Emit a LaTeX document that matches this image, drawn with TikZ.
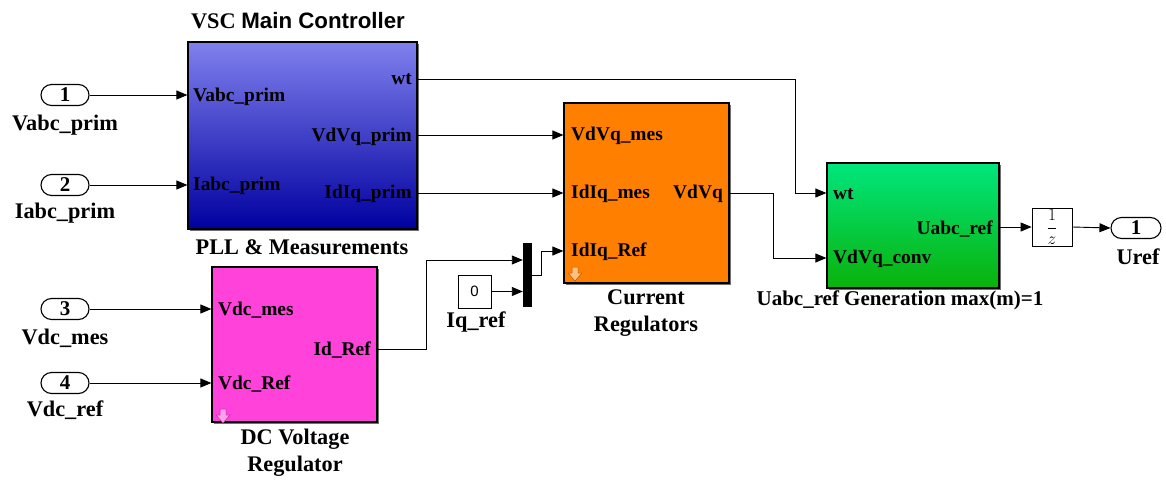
\documentclass[tikz,border=0pt]{standalone}
\usepackage{fontspec}
\setmainfont{Liberation Serif}
\newfontfamily\arialfont{Liberation Sans}
\usetikzlibrary{arrows.meta,shadows,shapes.misc}
\definecolor{bluetop}{RGB}{128,128,238}
\definecolor{bluebot}{RGB}{0,0,160}
\definecolor{orangeblk}{RGB}{255,128,0}
\definecolor{magentablk}{RGB}{255,66,218}
\definecolor{greentop}{RGB}{0,230,125}
\definecolor{greenbot}{RGB}{10,178,10}
\begin{document}
\begin{tikzpicture}[x=1pt,y=-1pt,
  lbl/.style={font=\fontsize{19.4}{21}\selectfont\bfseries, inner sep=0pt},
  bname/.style={font=\fontsize{22.3}{27}\selectfont\bfseries, inner sep=0pt},
  blk/.style={draw=black, line width=1.2pt, inner sep=0pt,
    drop shadow={shadow xshift=2pt, shadow yshift=-2pt, fill=black!70, opacity=0.8}},
  port/.style={draw=black, line width=1.1pt, rounded rectangle, fill=white,
    minimum width=48pt, minimum height=21pt, inner sep=0pt,
    font=\fontsize{21}{21}\selectfont\bfseries},
  arr/.style={line width=0.9pt, -{Triangle[length=11pt,width=9pt]}},
  icon/.style={draw=#1!70!black, fill=#1!50!white, line width=0.5pt}
]
\useasboundingbox (0,0) rectangle (1166,479);

% ---------- blocks ----------
\node[blk, minimum width=229pt, minimum height=187pt, top color=bluetop, bottom color=bluebot] (blue) at (302.5,135.5) {};
\node[blk, minimum width=165pt, minimum height=180pt, fill=orangeblk] (orange) at (646.5,193) {};
\node[blk, minimum width=165pt, minimum height=155pt, fill=magentablk] (magenta) at (294.5,344.5) {};
\node[blk, minimum width=172pt, minimum height=125pt, top color=greentop, bottom color=greenbot] (green) at (913,225.5) {};
\node[draw=black, line width=0.8pt, fill=white, minimum width=40pt, minimum height=38pt, inner sep=0pt] (delay) at (1052,227) {\fontsize{17}{17}\selectfont$\displaystyle\frac{1}{z}$};
\node[draw=black, line width=0.8pt, fill=white, minimum width=33pt, minimum height=33pt, inner sep=0pt] (const) at (474.5,291.5) {\arialfont\fontsize{15}{15}\selectfont 0};
\node[fill=black, minimum width=9pt, minimum height=64pt, inner sep=0pt] (mux) at (527.5,275) {};

% icons
\draw[icon=orangeblk] (572,267) -- (578,267) -- (578,273) -- (582,273) -- (575,281) -- (568,273) -- (572,273) -- cycle;
\draw[icon=magentablk] (220,409) -- (226,409) -- (226,415) -- (230,415) -- (223,423) -- (216,415) -- (220,415) -- cycle;

% ---------- ports ----------
\node[port] (p1) at (65,95) {1};
\node[port] (p2) at (65,185) {2};
\node[port] (p3) at (65,309) {3};
\node[port] (p4) at (65,383) {4};
\node[port, minimum width=50pt] (out) at (1136,228) {1};

\node[bname] (l1) at (65,125) {Vabc\_prim};
\node[bname] (l2) at (65,213) {Iabc\_prim};
\node[bname] (l3) at (65,338) {Vdc\_mes};
\node[bname] (l4) at (65,410) {Vdc\_ref};
\node[bname] (lo) at (1138,257) {Uref};
\node[bname] (lq) at (476,322) {Iq\_ref};

% ---------- block titles ----------
\node[bname] (tblue) at (298,21) {VSC {\arialfont\bfseries Main Controller}};
\node[bname] (bblue) at (302,247) {PLL \& Measurements};
\node[bname, align=center] (borange) at (646,313) {Current\\Regulators};
\node[bname, align=center] (bmag) at (295,453) {DC Voltage\\Regulator};
\node[bname, font=\fontsize{21}{25}\selectfont\bfseries] (bgreen) at (900,300) {Uabc\_ref Generation max(m)=1};

% ---------- port labels inside blocks ----------
\node[lbl, anchor=west] at (193,97) {Vabc\_prim};
\node[lbl, anchor=west] at (193,186) {Iabc\_prim};
\node[lbl, anchor=east] at (412,79) {wt};
\node[lbl, anchor=east] at (412,137) {VdVq\_prim};
\node[lbl, anchor=east] at (412,194) {IdIq\_prim};

\node[lbl, anchor=west] at (571,136) {VdVq\_mes};
\node[lbl, anchor=west] at (571,194) {IdIq\_mes};
\node[lbl, anchor=west] at (571,252) {IdIq\_Ref};
\node[lbl, anchor=east] at (723,194) {VdVq};

\node[lbl, anchor=west] at (218,310) {Vdc\_mes};
\node[lbl, anchor=west] at (218,384) {Vdc\_Ref};
\node[lbl, anchor=east] at (371,350) {Id\_Ref};

\node[lbl, anchor=west] at (833,194) {wt};
\node[lbl, anchor=west] at (833,259) {VdVq\_conv};
\node[lbl, anchor=east] at (993,229) {Uabc\_ref};

% ---------- connectors ----------
\draw[arr] (p1.east) -- (blue.west |- p1);
\draw[arr] (p2.east) -- (blue.west |- p2);
\draw[arr] (p3.east) -- (magenta.west |- p3);
\draw[arr] (p4.east) -- (magenta.west |- p4);

\coordinate (wtA) at (795,79);
\coordinate (wtB) at (795,193);
\draw[arr] (blue.east |- wtA) -- (wtA) -- (wtB) -- (green.west |- wtB);
\draw[arr] (blue.east |- 0,135) -- (orange.west |- 0,135);
\draw[arr] (blue.east |- 0,193) -- (orange.west |- 0,193);

\coordinate (vA) at (773,193);
\coordinate (vB) at (773,258);
\draw[arr] (orange.east |- vA) -- (vA) -- (vB) -- (green.west |- vB);

\coordinate (idA) at (426,349);
\coordinate (idB) at (426,260);
\draw[arr] (magenta.east |- idA) -- (idA) -- (idB) -- (mux.west |- idB);
\draw[arr] (const.east) -- (mux.west |- const);

\coordinate (mA) at (541,275);
\coordinate (mB) at (541,251);
\draw[arr] (mux.east |- mA) -- (mA) -- (mB) -- (orange.west |- mB);

\draw[arr] (green.east |- delay) -- (delay.west);
\draw[arr] (delay.east) -- (out.west);
\end{tikzpicture}
\end{document}
